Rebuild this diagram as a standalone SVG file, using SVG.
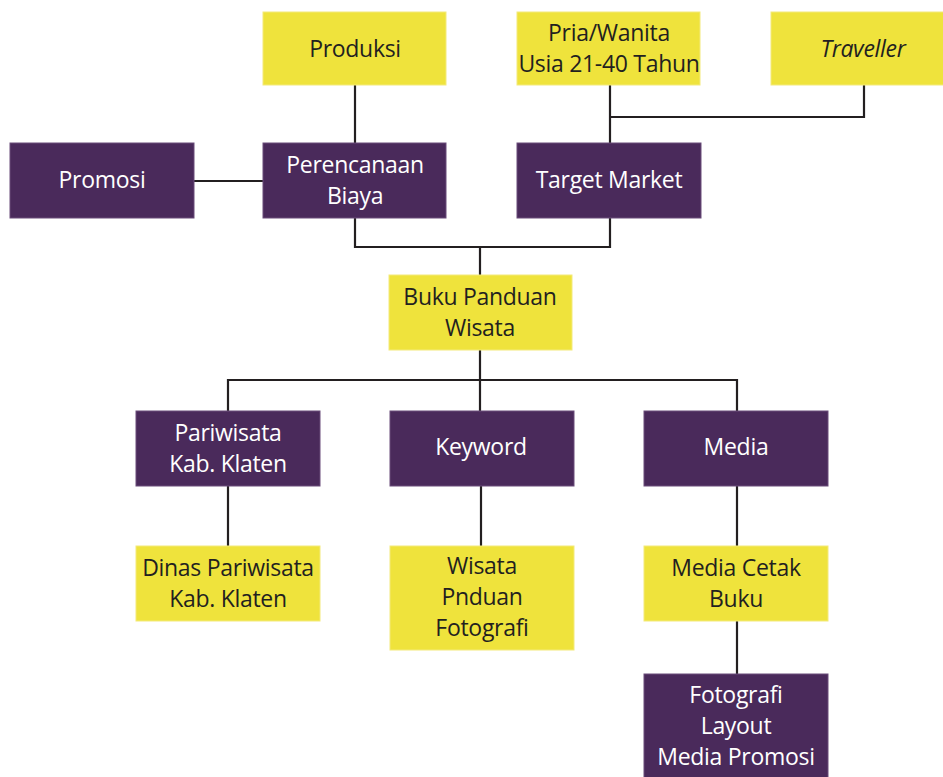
<svg xmlns="http://www.w3.org/2000/svg" width="943" height="777" viewBox="0 0 943 777">
<style>
.y{fill:#efe33c;stroke:#f3ea7a;stroke-width:1}
.p{fill:#4a2a5b;stroke:#6a4d7a;stroke-width:1}
text{font-family:"Open Sans","Liberation Sans",sans-serif;font-size:23px;letter-spacing:-0.3px;text-anchor:middle}
.ty{fill:#231f20}
.tp{fill:#ffffff}
.c{fill:none;stroke:#231f20;stroke-width:2.2}
</style>
<rect width="943" height="777" fill="#ffffff"/>
<g id="connectors">
<path class="c" d="M355 85V143"/>
<path class="c" d="M610 85V143M610 117H864V85"/>
<path class="c" d="M194 181H263"/>
<path class="c" d="M355 218V247H610V218M480 247V275"/>
<path class="c" d="M480 350V411M228 411V380H737V411"/>
<path class="c" d="M228 486V546M481 486V546M737 486V546M737 621V674"/>
</g>
<g id="produksi"><rect class="y" x="263" y="12" width="183" height="73"/><text class="ty" x="355" y="57">Produksi</text></g>
<g id="pria"><rect class="y" x="517" y="12" width="183" height="73"/><text class="ty" x="609" y="41">Pria/Wanita</text><text class="ty" x="609" y="72">Usia 21-40 Tahun</text></g>
<g id="traveller"><rect class="y" x="771" y="12" width="184" height="73"/><text class="ty" x="863" y="57" font-style="italic">Traveller</text></g>
<g id="promosi"><rect class="p" x="10" y="143" width="184" height="75"/><text class="tp" x="102" y="188">Promosi</text></g>
<g id="perencanaan"><rect class="p" x="263" y="143" width="183" height="75"/><text class="tp" x="355" y="173">Perencanaan</text><text class="tp" x="355" y="204">Biaya</text></g>
<g id="target"><rect class="p" x="517" y="143" width="184" height="75"/><text class="tp" x="609" y="188">Target Market</text></g>
<g id="buku"><rect class="y" x="389" y="275" width="183" height="75"/><text class="ty" x="480" y="305">Buku Panduan</text><text class="ty" x="480" y="336">Wisata</text></g>
<g id="pariwisata"><rect class="p" x="136" y="411" width="184" height="75"/><text class="tp" x="228" y="441">Pariwisata</text><text class="tp" x="228" y="472">Kab. Klaten</text></g>
<g id="keyword"><rect class="p" x="390" y="411" width="184" height="75"/><text class="tp" x="481" y="455">Keyword</text></g>
<g id="media"><rect class="p" x="644" y="411" width="184" height="75"/><text class="tp" x="736" y="455">Media</text></g>
<g id="dinas"><rect class="y" x="136" y="546" width="184" height="75"/><text class="ty" x="228" y="576">Dinas Pariwisata</text><text class="ty" x="228" y="607">Kab. Klaten</text></g>
<g id="wisata"><rect class="y" x="390" y="546" width="184" height="104"/><text class="ty" x="482" y="574">Wisata</text><text class="ty" x="482" y="605">Pnduan</text><text class="ty" x="482" y="636">Fotografi</text></g>
<g id="mediacetak"><rect class="y" x="644" y="546" width="184" height="75"/><text class="ty" x="736" y="576">Media Cetak</text><text class="ty" x="736" y="607">Buku</text></g>
<g id="fotografi"><rect class="p" x="644" y="674" width="184" height="110"/><text class="tp" x="736" y="703">Fotografi</text><text class="tp" x="736" y="734">Layout</text><text class="tp" x="736" y="765">Media Promosi</text></g>
</svg>
